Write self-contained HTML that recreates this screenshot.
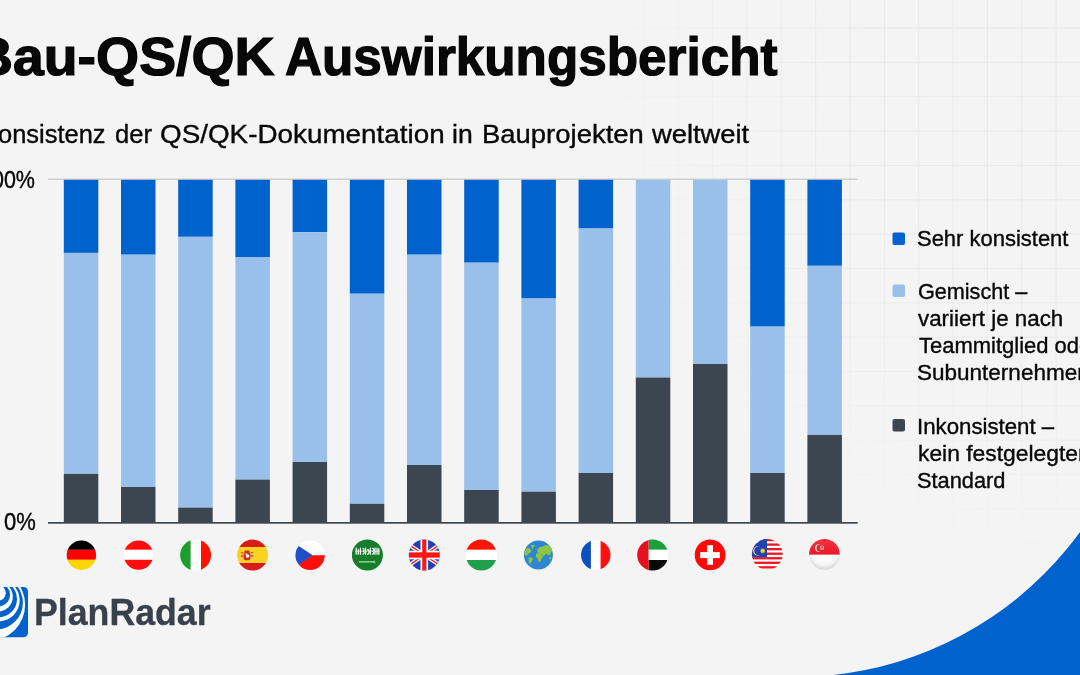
<!DOCTYPE html>
<html lang="de"><head><meta charset="utf-8"><title>Bau-QS/QK Auswirkungsbericht</title>
<style>
html,body{margin:0;padding:0;width:1080px;height:675px;overflow:hidden;background:#f4f4f4}
#page{width:1080px;height:675px;overflow:hidden;position:relative;background:#f4f4f4;font-family:"Liberation Sans",sans-serif;color:#080808}
.t{position:absolute;white-space:nowrap;transform-origin:0 0;line-height:1}
#chart{position:absolute;left:0;top:0}
h1,p,ul,li{margin:0;padding:0;font:inherit;list-style:none;height:0}
#t1{left:-27.33px;top:30.43px;font-size:53.6px;font-weight:bold;transform:scaleX(1.0333);-webkit-text-stroke:1.2px #000}
#t2{left:284.64px;top:30.43px;font-size:53.6px;font-weight:bold;transform:scaleX(0.956);-webkit-text-stroke:1.2px #000}
#s1{left:-18.63px;top:121.39px;font-size:26px;transform:scaleX(0.9796);-webkit-text-stroke:0.35px #000}
#s2{left:114.62px;top:121.39px;font-size:26px;transform:scaleX(0.9838);-webkit-text-stroke:0.35px #000}
#s3{left:159.63px;top:121.39px;font-size:26px;transform:scaleX(1.0705);-webkit-text-stroke:0.35px #000}
#s4{left:452.28px;top:121.39px;font-size:26px;transform:scaleX(1.0222);-webkit-text-stroke:0.35px #000}
#s5{left:481.89px;top:121.39px;font-size:26px;transform:scaleX(1.056);-webkit-text-stroke:0.35px #000}
#s6{left:651.9px;top:121.39px;font-size:26px;transform:scaleX(1.0505);-webkit-text-stroke:0.35px #000}
#y100{left:-19.71px;top:168.76px;font-size:23.2px;transform:scaleX(0.9273);-webkit-text-stroke:0.35px #000}
#y0{left:3.75px;top:510.66px;font-size:23.2px;transform:scaleX(0.9469);-webkit-text-stroke:0.35px #000}
#l1{left:917.2px;top:228.18px;font-size:22px;transform:scaleX(0.9987);-webkit-text-stroke:0.35px #000}
#l2a{left:917.72px;top:281.28px;font-size:22px;transform:scaleX(0.982);-webkit-text-stroke:0.35px #000}
#l2b{left:918.2px;top:308.28px;font-size:22px;transform:scaleX(1.0155);-webkit-text-stroke:0.35px #000}
#l2c{left:918.7px;top:334.98px;font-size:22px;transform:scaleX(0.9992);-webkit-text-stroke:0.35px #000}
#l2d{left:917.18px;top:361.98px;font-size:22px;transform:scaleX(1.0232);-webkit-text-stroke:0.35px #000}
#l3a{left:917.08px;top:416.18px;font-size:22px;transform:scaleX(1.0104);-webkit-text-stroke:0.35px #000}
#l3b{left:917.66px;top:442.98px;font-size:22px;transform:scaleX(1.0382);-webkit-text-stroke:0.35px #000}
#l3c{left:917.21px;top:469.98px;font-size:22px;transform:scaleX(0.9908);-webkit-text-stroke:0.35px #000}
#brand{left:34.23px;top:595.27px;font-size:36.3px;font-weight:bold;transform:scaleX(0.9836);color:#38414c;-webkit-text-stroke:0.3px #38414c}
</style></head><body><div id="page">
<svg id="chart" width="1080" height="675" viewBox="0 0 1080 675">
<defs>
<pattern id="grid" x="780.9" y="27.6" width="34.34" height="34.34" patternUnits="userSpaceOnUse"><path d="M0 0.5H34.34M0.5 0V34.34" stroke="#e8e8e8" stroke-width="1" fill="none"/></pattern>
<radialGradient id="fade" gradientUnits="userSpaceOnUse" cx="1080" cy="90" r="480"><stop offset="0" stop-color="#fff" stop-opacity="1"/><stop offset=".45" stop-color="#fff" stop-opacity="1"/><stop offset="1" stop-color="#fff" stop-opacity="0"/></radialGradient>
<mask id="gm"><rect width="1080" height="675" fill="url(#fade)"/></mask>
</defs>
<rect width="1080" height="675" fill="url(#grid)" mask="url(#gm)"/>
<path d="M0 0H1080V675H0Z M795.4 325.5m-351.6 0a351.6 351.6 0 1 0 703.2 0a351.6 351.6 0 1 0 -703.2 0Z" fill="#0062cc" fill-rule="evenodd" clip-path="url(#cc)"/>
<clipPath id="cc"><rect x="790" y="500" width="290" height="175"/></clipPath>
<rect x="48" y="178.7" width="809.7" height="1" fill="#bdbdbd"/>
<rect x="63.8" y="179.8" width="34.5" height="73.1" fill="#0062cc"/>
<rect x="63.8" y="252.9" width="34.5" height="221.0" fill="#99c0ea"/>
<rect x="63.8" y="473.9" width="34.5" height="48.7" fill="#3c4650"/>
<rect x="121.0" y="179.8" width="34.5" height="74.9" fill="#0062cc"/>
<rect x="121.0" y="254.7" width="34.5" height="232.3" fill="#99c0ea"/>
<rect x="121.0" y="487.0" width="34.5" height="35.6" fill="#3c4650"/>
<rect x="178.2" y="179.8" width="34.5" height="57.0" fill="#0062cc"/>
<rect x="178.2" y="236.8" width="34.5" height="270.8" fill="#99c0ea"/>
<rect x="178.2" y="507.6" width="34.5" height="15.0" fill="#3c4650"/>
<rect x="235.4" y="179.8" width="34.5" height="77.6" fill="#0062cc"/>
<rect x="235.4" y="257.4" width="34.5" height="222.2" fill="#99c0ea"/>
<rect x="235.4" y="479.6" width="34.5" height="43.0" fill="#3c4650"/>
<rect x="292.6" y="179.8" width="34.5" height="52.4" fill="#0062cc"/>
<rect x="292.6" y="232.2" width="34.5" height="229.8" fill="#99c0ea"/>
<rect x="292.6" y="462.0" width="34.5" height="60.6" fill="#3c4650"/>
<rect x="349.8" y="179.8" width="34.5" height="113.9" fill="#0062cc"/>
<rect x="349.8" y="293.7" width="34.5" height="210.1" fill="#99c0ea"/>
<rect x="349.8" y="503.8" width="34.5" height="18.8" fill="#3c4650"/>
<rect x="407.0" y="179.8" width="34.5" height="74.9" fill="#0062cc"/>
<rect x="407.0" y="254.7" width="34.5" height="210.3" fill="#99c0ea"/>
<rect x="407.0" y="465.0" width="34.5" height="57.6" fill="#3c4650"/>
<rect x="464.2" y="179.8" width="34.5" height="82.9" fill="#0062cc"/>
<rect x="464.2" y="262.7" width="34.5" height="227.3" fill="#99c0ea"/>
<rect x="464.2" y="490.0" width="34.5" height="32.6" fill="#3c4650"/>
<rect x="521.4" y="179.8" width="34.5" height="118.7" fill="#0062cc"/>
<rect x="521.4" y="298.5" width="34.5" height="193.2" fill="#99c0ea"/>
<rect x="521.4" y="491.7" width="34.5" height="30.9" fill="#3c4650"/>
<rect x="578.6" y="179.8" width="34.5" height="48.7" fill="#0062cc"/>
<rect x="578.6" y="228.5" width="34.5" height="244.5" fill="#99c0ea"/>
<rect x="578.6" y="473.0" width="34.5" height="49.6" fill="#3c4650"/>
<rect x="635.8" y="179.8" width="34.5" height="197.7" fill="#99c0ea"/>
<rect x="635.8" y="377.5" width="34.5" height="145.1" fill="#3c4650"/>
<rect x="693.0" y="179.8" width="34.5" height="184.2" fill="#99c0ea"/>
<rect x="693.0" y="364.0" width="34.5" height="158.6" fill="#3c4650"/>
<rect x="750.2" y="179.8" width="34.5" height="146.8" fill="#0062cc"/>
<rect x="750.2" y="326.6" width="34.5" height="146.4" fill="#99c0ea"/>
<rect x="750.2" y="473.0" width="34.5" height="49.6" fill="#3c4650"/>
<rect x="807.4" y="179.8" width="34.5" height="86.0" fill="#0062cc"/>
<rect x="807.4" y="265.8" width="34.5" height="169.1" fill="#99c0ea"/>
<rect x="807.4" y="434.9" width="34.5" height="87.7" fill="#3c4650"/>
<rect x="48" y="522" width="809.7" height="1.7" fill="#3c4650"/>
<defs><clipPath id="f1"><circle cx="81.4" cy="555.2" r="14.7"/></clipPath><clipPath id="f2"><circle cx="138.5" cy="555.1" r="14.7"/></clipPath><clipPath id="f3"><circle cx="195.6" cy="555.1" r="15.5"/></clipPath><clipPath id="f4"><circle cx="252.6" cy="555.1" r="15.5"/></clipPath><clipPath id="f5"><circle cx="310.1" cy="555.3" r="14.7"/></clipPath><clipPath id="f6"><circle cx="367.4" cy="555.0" r="15.5"/></clipPath><clipPath id="f7"><circle cx="424.3" cy="555.0" r="15.5"/></clipPath><clipPath id="f8"><circle cx="481.3" cy="555.0" r="15.5"/></clipPath><clipPath id="f9"><circle cx="538.4" cy="554.9" r="14.5"/></clipPath><clipPath id="f10"><circle cx="595.8" cy="555.0" r="14.7"/></clipPath><clipPath id="f11"><circle cx="652.7" cy="555.0" r="15.5"/></clipPath><clipPath id="f12"><circle cx="710.1" cy="554.9" r="15.4"/></clipPath><clipPath id="f13"><circle cx="767.3" cy="554.3" r="15.4"/></clipPath><radialGradient id="sgw" cx=".5" cy=".38" r=".62"><stop offset="0" stop-color="#fff"/><stop offset=".72" stop-color="#f7f7f7"/><stop offset="1" stop-color="#d4d4d4"/></radialGradient><linearGradient id="sgr" x1="0" y1="0" x2="0" y2="1"><stop offset="0" stop-color="#f5323f"/><stop offset="1" stop-color="#e8172a"/></linearGradient><clipPath id="f14"><circle cx="824.4" cy="554.5" r="15.4"/></clipPath></defs>
<g id="flags">
<g clip-path="url(#f1)"><rect x="65.40" y="539.20" width="32.00" height="10.60" fill="#000"/><rect x="65.40" y="549.80" width="32.00" height="10.00" fill="#ff0000"/><rect x="65.40" y="559.80" width="32.00" height="12.00" fill="#ffd500"/></g>
<g clip-path="url(#f2)"><rect x="122.50" y="539.10" width="32.00" height="10.70" fill="#ff0d0d"/><rect x="122.50" y="549.80" width="32.00" height="10.00" fill="#fff"/><rect x="122.50" y="559.80" width="32.00" height="12.00" fill="#ff0d0d"/></g>
<g clip-path="url(#f3)"><rect x="190.60" y="539.10" width="10.40" height="32.00" fill="#fff"/><rect x="179.60" y="539.10" width="11.00" height="32.00" fill="#1e9e2c"/><rect x="201.00" y="539.10" width="16.00" height="32.00" fill="#ff1200"/></g>
<g clip-path="url(#f4)"><rect x="236.60" y="539.10" width="32.00" height="7.90" fill="#dd1a1a"/><rect x="236.60" y="562.80" width="32.00" height="10.00" fill="#dd1a1a"/><rect x="236.60" y="547.00" width="32.00" height="15.80" fill="#fad220"/><g><rect x="243.6" y="552" width="6.8" height="8.3" rx="2" fill="#cc3325"/><rect x="241.3" y="553" width="1.7" height="7" fill="#e8c08a"/><rect x="251" y="553" width="1.7" height="7" fill="#e8c08a"/><rect x="240.9" y="555.2" width="2.5" height="1.5" fill="#d2452a"/><rect x="250.6" y="555.2" width="2.5" height="1.5" fill="#d2452a"/><rect x="241" y="552.2" width="2.3" height="1.1" fill="#d2452a"/><rect x="250.7" y="552.2" width="2.3" height="1.1" fill="#d2452a"/><circle cx="247.6" cy="556" r="1.8" fill="#f7f0ea"/><circle cx="246.3" cy="554.3" r="1" fill="#e9d6c4"/><rect x="244.4" y="550.4" width="5.2" height="1.9" rx=".7" fill="#cc3325"/></g></g>
<g clip-path="url(#f5)"><path d="M290.7 540.10L313.4 555.30L290.7 570.50Z" fill="#1f4fc6"/><path d="M290.7 570.00L312.7 555.30L312.7 554.30H330V572.30H290.7Z" fill="#ff0d0d"/><path d="M290.7 540.60L312.7 555.30H330V538.30H290.7Z" fill="#fff"/></g>
<g clip-path="url(#f6)"><rect x="351.40" y="539.00" width="32.00" height="32.00" fill="#167d2a"/><g fill="none" stroke="#f4faf4" stroke-width="1.25" stroke-linecap="round"><path d="M356.2 548v6.2M358.3 549.5v4.7M360.4 548v6.2M362.9 548.6c1.6 0 1.6 2.4 0 2.4c1.8 0 1.8 3 0 3M365.6 548v6.2M367.6 549.8c1.9-.6 1.9 4.4 0 4.4M370.4 548v6.2M372.5 548.4c1.8.4 1.8 2.6 0 2.8c1.6.2 1.6 2.6 0 3M375 548v6.2M377 548v6.2M378.8 548.6v5.6"/><path d="M355.6 551.2h23.6" stroke-width=".9" opacity=".75"/></g><path d="M359 561.2h15.4l1.7 1.3h-17.1z" fill="#a9dcac"/><rect x="373.6" y="560.6" width="1" height="2.6" fill="#9fd8a3"/></g>
<g clip-path="url(#f7)"><rect x="408.30" y="539.00" width="32.00" height="32.00" fill="#2141b3"/><path d="M400.3 539.0L448.3 571.0M448.3 539.0L400.3 571.0" stroke="#fff" stroke-width="4"/><path d="M400.3 539.0L448.3 571.0M448.3 539.0L400.3 571.0" stroke="#ff1414" stroke-width="1.3"/><rect x="408.30" y="550.70" width="32.00" height="8.60" fill="#fff"/><rect x="420.50" y="539.00" width="7.60" height="32.00" fill="#fff"/><rect x="408.30" y="552.35" width="32.00" height="5.30" fill="#ff1414"/><rect x="422.20" y="539.00" width="4.20" height="32.00" fill="#ff1414"/></g>
<g clip-path="url(#f8)"><rect x="465.30" y="539.00" width="32.00" height="10.80" fill="#ff1400"/><rect x="465.30" y="549.80" width="32.00" height="10.20" fill="#fff"/><rect x="465.30" y="560.00" width="32.00" height="12.00" fill="#20a04a"/></g>
<g clip-path="url(#f9)"><rect x="522.40" y="538.90" width="32.00" height="32.00" fill="#2f86d2"/><g fill="#8dc63f"><path d="M524.4 551.5l2.2-3.4 3 .3 1.8 2.2-1.6 2.6-1.9 .6-1 2.2-2.3-1.2z"/><path d="M530.6 545l4.4 -.3-2.4 4.2z"/><path d="M528.6 557.4l3.2 .2 1.3 2-1.9 2.4-.8 2.6-1.6-2.4z"/><path d="M537.4 549.6l2.2-2.4 3.6-.6 2-1.6 3.6 .4 2.4 2 1 3.6-1.6 1.4.2 2-2.2 1-1.6-1.6-2 .6-1.4 2.2-1.8-2.6-2.8-.2-1.6-2z"/><path d="M536 553.6l3.4-.4 2.8 1.6 .6 2.4-1.6 2.2-.8 2.6-1.8-.2-.8-3.2-2-2.2z"/><path d="M549.4 557.2l2 .2-.4 1.8-1.8-.4z"/><path d="M550.2 560.4l1.6 .8-1.4 1.6z"/></g></g>
<g clip-path="url(#f10)"><rect x="590.90" y="539.00" width="9.70" height="32.00" fill="#fff"/><rect x="579.80" y="539.00" width="11.10" height="32.00" fill="#0b4fc0"/><rect x="600.60" y="539.00" width="16.00" height="32.00" fill="#ff0f0f"/></g>
<g clip-path="url(#f11)"><rect x="648.50" y="549.60" width="22.00" height="10.40" fill="#fff"/><rect x="648.50" y="539.00" width="22.00" height="10.60" fill="#19a03c"/><rect x="648.50" y="560.00" width="22.00" height="12.00" fill="#080808"/><rect x="636.70" y="539.00" width="11.80" height="32.00" fill="#e6101e"/></g>
<g clip-path="url(#f12)"><rect x="694.10" y="538.90" width="32.00" height="32.00" fill="#ff0a0a"/><rect x="707.10" y="545.20" width="5.90" height="19.60" fill="#fff"/><rect x="700.20" y="552.10" width="19.60" height="6.00" fill="#fff"/></g>
<g clip-path="url(#f13)"><rect x="751.30" y="538.30" width="32.00" height="32.00" fill="#fff"/><rect x="751.30" y="538.90" width="32.00" height="2.30" fill="#f01420"/><rect x="751.30" y="543.45" width="32.00" height="2.30" fill="#f01420"/><rect x="751.30" y="548.00" width="32.00" height="2.30" fill="#f01420"/><rect x="751.30" y="552.55" width="32.00" height="2.30" fill="#f01420"/><rect x="751.30" y="557.10" width="32.00" height="2.30" fill="#f01420"/><rect x="751.30" y="561.65" width="32.00" height="2.30" fill="#f01420"/><rect x="751.30" y="566.20" width="32.00" height="2.30" fill="#f01420"/><rect x="751.30" y="538.30" width="15.70" height="18.90" fill="#2040b6"/><path d="M760.2 546.4a4.9 4.9 0 1 0 0 8.8a4.6 4.6 0 1 1 0-8.8z" fill="#f4dc5a"/><polygon points="762.70,547.90 763.08,549.14 763.96,548.19 763.76,549.47 764.97,548.99 764.23,550.06 765.53,550.15 764.40,550.80 765.53,551.45 764.23,551.54 764.97,552.61 763.76,552.13 763.96,553.41 763.08,552.46 762.70,553.70 762.32,552.46 761.44,553.41 761.64,552.13 760.43,552.61 761.17,551.54 759.87,551.45 761.00,550.80 759.87,550.15 761.17,550.06 760.43,548.99 761.64,549.47 761.44,548.19 762.32,549.14" fill="#f7d117"/></g>
<g clip-path="url(#f14)"><circle cx="824.4" cy="554.5" r="15.4" fill="url(#sgw)"/><rect x="808.40" y="538.50" width="32.00" height="16.10" fill="url(#sgr)"/><path d="M820.2 544.2a4 4 0 1 0 0 7.6a3.3 3.3 0 1 1 0-7.6z" fill="#fff"/><circle cx="822.0" cy="545.6" r=".7" fill="#fff"/><circle cx="820.6" cy="547.0" r=".7" fill="#fff"/><circle cx="823.4" cy="547.0" r=".7" fill="#fff"/><circle cx="821.1" cy="549.0" r=".7" fill="#fff"/><circle cx="822.9" cy="549.0" r=".7" fill="#fff"/></g>
</g>
<g id="logo">
<clipPath id="lc"><rect x="-22" y="587" width="50" height="50.3" rx="4.5"/></clipPath>
<rect x="-22" y="587" width="50" height="50.3" rx="4.5" fill="#0062cc"/>
<g clip-path="url(#lc)">
<circle cx="-10.8" cy="604.8" r="35.9" fill="#fff"/><circle cx="-3.9" cy="602.65" r="26.8" fill="#0062cc"/>
<circle cx="-1.4" cy="600.3" r="21.1" fill="#fff"/><circle cx="-1.2" cy="599" r="18.2" fill="#0062cc"/>
<circle cx="-2.1" cy="596.65" r="14.9" fill="#fff"/><circle cx="-1.8" cy="594.7" r="11.8" fill="#0062cc"/>
<circle cx="-2" cy="593" r="7.8" fill="#fff"/>
</g></g>
</svg>
<h1><span id="t1" class="t">Bau-QS/QK</span> <span id="t2" class="t">Auswirkungsbericht</span></h1>
<p class="subtitle"><span id="s1" class="t">Konsistenz</span> <span id="s2" class="t">der</span> <span id="s3" class="t">QS/QK-Dokumentation</span> <span id="s4" class="t">in</span> <span id="s5" class="t">Bauprojekten</span> <span id="s6" class="t">weltweit</span></p>
<div class="yaxis"><span id="y100" class="t">100%</span> <span id="y0" class="t">0%</span></div>
<svg style="position:absolute;left:0;top:0" width="1080" height="675"><rect x="892.5" y="232.5" width="12.5" height="12.5" rx="2" fill="#0062cc"/><rect x="892.5" y="284.5" width="12.5" height="12.5" rx="2" fill="#99c0ea"/><rect x="892.5" y="419" width="12.5" height="12.5" rx="2" fill="#3c4650"/></svg>
<ul class="legend">
<li><span id="l1" class="t">Sehr konsistent</span></li>
<li><span id="l2a" class="t">Gemischt –</span> <span id="l2b" class="t">variiert je nach</span> <span id="l2c" class="t">Teammitglied oder</span> <span id="l2d" class="t">Subunternehmer</span></li>
<li><span id="l3a" class="t">Inkonsistent –</span> <span id="l3b" class="t">kein festgelegter</span> <span id="l3c" class="t">Standard</span></li>
</ul>
<div class="logo"><span id="brand" class="t">PlanRadar</span></div>
</div></body></html>
